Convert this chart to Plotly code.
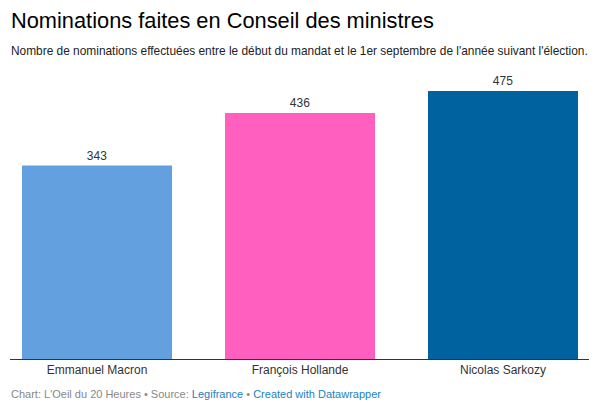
import plotly.graph_objects as go

categories = ["Emmanuel Macron", "François Hollande", "Nicolas Sarkozy"]
values = [343, 436, 475]
colors = ["#62a0e0", "#ff60c0", "#0063a0"]

W, H = 599, 415
OFF = 8  # page body margin
L, R = 10 - OFF, 599 - (589 - OFF)
T = 77 - OFF
B = H - (359 - OFF)
plot_h = H - T - B

def py(p):
    return (H - B - (p - OFF)) / plot_h

def px(p):
    return ((p - OFF) - L) / (W - L - R)

fig = go.Figure()
fig.add_trace(go.Bar(
    x=list(range(len(categories))),
    y=values,
    marker=dict(color=colors, line=dict(width=0)),
    width=0.739,
    text=[str(v) for v in values],
    textposition="outside",
    textfont=dict(family="Liberation Sans, Arial, sans-serif", size=12, color="#333333"),
    cliponaxis=False,
    hoverinfo="skip",
))

fig.update_layout(
    width=W, height=H,
    margin=dict(l=L, r=R, t=T, b=B),
    paper_bgcolor="white", plot_bgcolor="white",
    showlegend=False,
    font=dict(family="Liberation Sans, Arial, sans-serif"),
    xaxis=dict(
        range=[-0.4286, 2.4236],
        tickmode="array",
        tickvals=list(range(len(categories))),
        ticktext=categories,
        showgrid=False, zeroline=False,
        showline=True, linecolor="#333333", linewidth=1,
        ticks="",
        tickfont=dict(size=12, color="#333333"),
        fixedrange=True,
    ),
    yaxis=dict(range=[0, 500], visible=False, fixedrange=True),
    annotations=[
        dict(text="Nominations faites en Conseil des ministres", x=px(9), y=py(21),
             xref="paper", yref="paper", xanchor="left", yanchor="middle", showarrow=False,
             font=dict(size=21.8, color="#000000")),
        dict(text="Nombre de nominations effectuées entre le début du mandat et le 1er septembre de l'année suivant l'élection.",
             x=px(9), y=py(51), xref="paper", yref="paper", xanchor="left", yanchor="middle", showarrow=False,
             font=dict(size=11.9, color="#222222")),
        dict(text="Chart: L'Oeil du 20 Heures • Source: <span style='color:#1d81c2'>Legifrance</span> • <span style='color:#1d81c2'>Created with Datawrapper</span>",
             x=px(9), y=py(394), xref="paper", yref="paper", xanchor="left", yanchor="middle", showarrow=False,
             font=dict(size=11, color="#888888")),
    ],
)

fig.write_html("out.html")
